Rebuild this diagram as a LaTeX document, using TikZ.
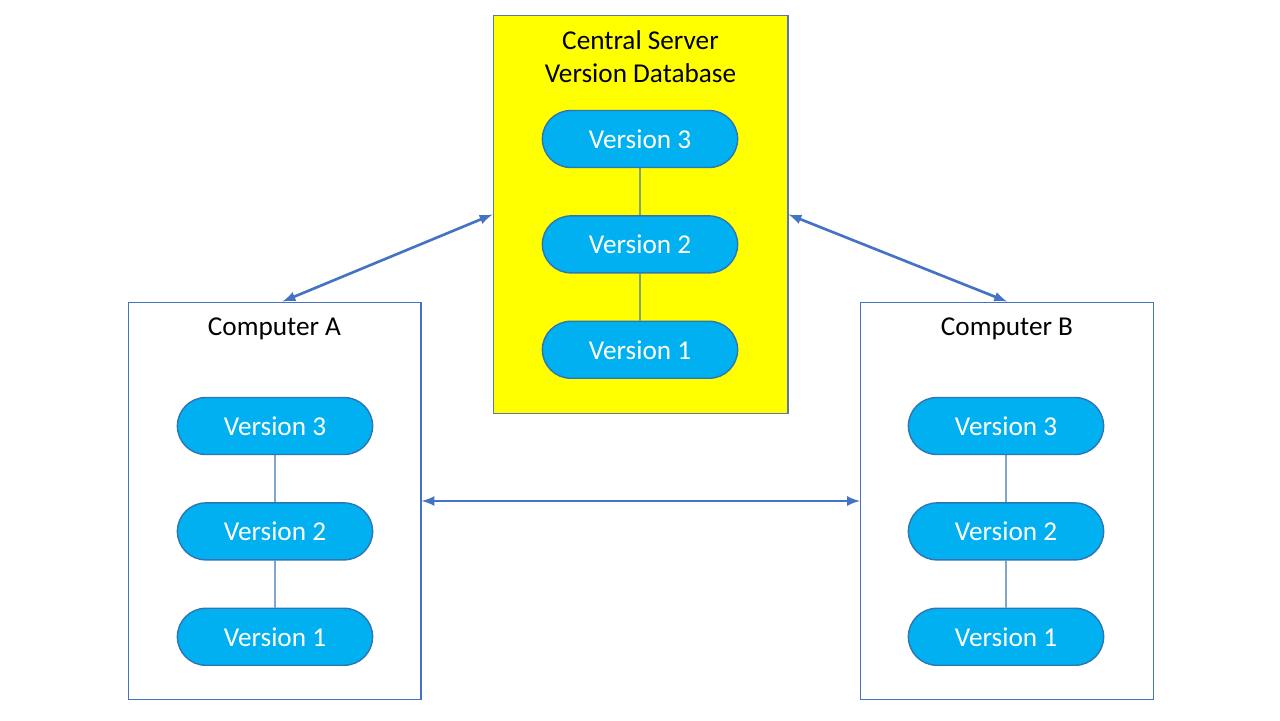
\documentclass[tikz,border=0pt]{standalone}
\usepackage{fontspec}
\setmainfont{Carlito}
\usetikzlibrary{positioning, shapes.misc}
\definecolor{pillblue}{HTML}{00B0F0}
\definecolor{pilledge}{HTML}{2E75B6}
\definecolor{linkblue}{HTML}{4472C4}
\definecolor{serveryellow}{HTML}{FFFF00}
\tikzset{box/.style={draw=linkblue, line width=0.6pt, minimum width=5.86cm, minimum height=7.96cm},
title/.style={align=center, font=\fontsize{15.5}{18.7}\selectfont},
version/.style={rounded rectangle, draw=pilledge, fill=pillblue, line width=0.8pt, text=white, minimum width=4.14cm, minimum height=1.14cm, font=\fontsize{15.5}{18}\selectfont},
line/.style={latex-latex, draw=linkblue, line width=1.5pt},
link/.style={draw=pilledge!80!gray, line width=0.8pt}
}
\begin{document}
\begin{tikzpicture}[x=0.02cm, y=-0.02cm]
\useasboundingbox (0,0) rectangle (1280,720);
\node[box, fill=serveryellow, draw=linkblue!60!gray, minimum width=5.9cm, minimum height=7.98cm] (server) at (640.5,214.5) {};
\node[box] (compa) at (274.5,501) {};
\node[box] (compb) at (1007,501) {};
 % titles of the three boxes
\node[title] (stitle) at ([yshift=-0.84cm]server.north) {Central Server\\Version Database};
\node[title] (atitle) at ([yshift=-0.54cm]compa.north) {Computer A};
\node[title] (btitle) at ([yshift=-0.54cm]compb.north) {Computer B};
 % version stacks
\node[version] (s3) at (640,139) {Version 3};
\node[version, below=0.94cm of s3] (s2) {Version 2};
\node[version, below=0.94cm of s2] (s1) {Version 1};
\node[version] (a3) at (275,426) {Version 3};
\node[version, below=0.94cm of a3] (a2) {Version 2};
\node[version, below=0.94cm of a2] (a1) {Version 1};
\node[version] (b3) at (1006,426) {Version 3};
\node[version, below=0.94cm of b3] (b2) {Version 2};
\node[version, below=0.94cm of b2] (b1) {Version 1};
\draw[link] (s3)--(s2) (s2)--(s1);
\draw[link] (a3)--(a2) (a2)--(a1);
\draw[link] (b3)--(b2) (b2)--(b1);
 % exchanges
\draw[line] ([xshift=0.16cm]compa.north)--(server.west);
\draw[line] (server.east)--(compb.north);
\draw[line] (compa.east)--(compb.west);
\end{tikzpicture}
\end{document}
